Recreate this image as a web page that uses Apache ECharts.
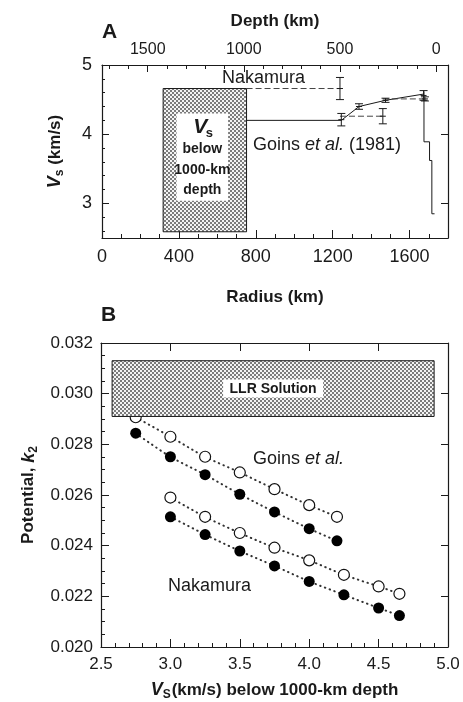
<!DOCTYPE html>
<html>
<head>
<meta charset="utf-8">
<script src="https://cdn.jsdelivr.net/npm/echarts@6/dist/echarts.min.js"></script>
<style>
html, body { margin: 0; padding: 0; background: #fff; }
#chart { width: 463px; height: 702px; }
</style>
</head>
<body>
<div id="chart"></div>
<script>
// ---- panel A : shear velocity profile ----
const R_MOON = 1738
const radiusMax = 1800
const radiusLabels = [0, 400, 800, 1200, 1600]
const depthLabels = [0, 500, 1000, 1500]
const vsLabels = [3, 4, 5]
const vsBox = [318, 752, 2.59, 4.66]          // r0, r1, vs0, vs1
const vsTextBox = [388, 656, 3.04, 4.30]
const goinsProfile = [[752, 4.2], [1245, 4.2], [1337, 4.40], [1475, 4.49], [1673, 4.58]]
const crustProfile = [[1675, 4.62], [1675, 3.89], [1704, 3.89], [1704, 3.62], [1716, 3.62], [1716, 2.85], [1730, 2.85]]
const nakamuraSteps = [[752, 1238, 4.66], [1238, 1461, 4.26], [1461, 1673, 4.51]]
const goinsErr = [[1245, 4.21, 0.09], [1337, 4.40, 0.04], [1475, 4.49, 0.03], [1673, 4.56, 0.07]]
const nakamuraErr = [[1238, 4.66, 0.16], [1461, 4.26, 0.11], [1680, 4.51, 0.03]]

// ---- panel B : k2 vs Vs below 1000 km ----
const vsGoins = [2.75, 3.0, 3.25, 3.5, 3.75, 4.0, 4.2]
const goinsOpen = [0.02907, 0.02830, 0.02751, 0.02689, 0.02623, 0.02560, 0.02514]
const goinsFilled = [0.02844, 0.02751, 0.02680, 0.02603, 0.02533, 0.02467, 0.02419]
const vsNakamura = [3.0, 3.25, 3.5, 3.75, 4.0, 4.25, 4.5, 4.65]
const nakamuraOpen = [0.02590, 0.02514, 0.02450, 0.02392, 0.02342, 0.02285, 0.02239, 0.02210]
const nakamuraFilled = [0.02514, 0.02444, 0.02379, 0.02320, 0.02259, 0.02206, 0.02154, 0.02124]
const llrBox = [2.58, 4.90, 0.0291, 0.0313]

const FONT = 'Liberation Sans'
const INK = '#1a1a1a'

function steps(a, b, s) {
    let out = []
    for (let v = a; v <= b + 1e-9; v += s) out.push(+v.toFixed(4))
    return out
}

// dotted fill like the print screen
function stipple() {
    const c = document.createElement('canvas')
    c.width = 4; c.height = 4
    const g = c.getContext('2d')
    g.fillStyle = '#f4f4f4'
    g.fillRect(0, 0, 4, 4)
    g.fillStyle = '#7c7c7c'
    g.fillRect(0, 0, 2, 2)
    g.fillRect(2, 2, 2, 2)
    return c
}
const pattern = { image: stipple(), repeat: 'repeat' }

function boxSeries(xi, yi, box, extra) {
    return {
        type: 'custom', xAxisIndex: xi, yAxisIndex: yi, z: 5,
        data: [box],
        encode: { x: [0, 1], y: [2, 3] },
        renderItem: function (params, api) {
            const p0 = api.coord([api.value(0), api.value(3)])
            const p1 = api.coord([api.value(1), api.value(2)])
            const children = [{
                type: 'rect',
                shape: { x: p0[0], y: p0[1], width: p1[0] - p0[0], height: p1[1] - p0[1] },
                style: { fill: pattern, stroke: INK, lineWidth: 1 }
            }]
            return { type: 'group', children: children.concat(extra(api, p0, p1)) }
        }
    }
}

function errSeries(data) {
    return {
        type: 'custom', xAxisIndex: 0, yAxisIndex: 0, z: 4,
        data: data,
        encode: { x: 0, y: 1 },
        renderItem: function (params, api) {
            const x = api.value(0), v = api.value(1), e = api.value(2)
            const t = api.coord([x, v + e]), b = api.coord([x, v - e]), m = api.coord([x, v])
            const st = { stroke: INK, lineWidth: 1 }
            return {
                type: 'group', children: [
                    { type: 'line', shape: { x1: t[0], y1: t[1], x2: b[0], y2: b[1] }, style: st },
                    { type: 'line', shape: { x1: t[0] - 4, y1: t[1], x2: t[0] + 4, y2: t[1] }, style: st },
                    { type: 'line', shape: { x1: b[0] - 4, y1: b[1], x2: b[0] + 4, y2: b[1] }, style: st },
                    { type: 'line', shape: { x1: m[0] - 3, y1: m[1], x2: m[0] + 3, y2: m[1] }, style: st }
                ]
            }
        }
    }
}

function dotted(xs, ys, filled) {
    return {
        type: 'line', xAxisIndex: 4, yAxisIndex: 3, z: 3,
        data: xs.map((x, i) => [x, ys[i]]),
        smooth: 0.3,
        symbol: 'circle', symbolSize: 11, showSymbol: true,
        lineStyle: { type: [0.5, 4.5], width: 2, cap: 'round', color: '#333' },
        itemStyle: { color: filled ? '#000' : '#fff', borderColor: '#111', borderWidth: filled ? 0 : 1.2 },
        emphasis: { disabled: true }
    }
}

// onZero off everywhere: the depth axis holds 0 and would pull the right axis inward
const axisLineStyle = { show: true, onZero: false, lineStyle: { color: INK, width: 1.2 } }
const noLine = { show: false, onZero: false }
const tickStyle = { color: INK, width: 1 }
const labelStyle = (size) => ({ show: true, fontFamily: FONT, fontSize: size, color: INK, formatter: v => String(v) })
const titleStyle = { fontFamily: FONT, fontSize: 17, fontWeight: 'bold', color: INK }
const ticks = (len, values) => {
    let t = { show: true, inside: true, length: len, lineStyle: tickStyle }
    if (values) t.customValues = values
    return t
}

var myChart = echarts.init(document.getElementById('chart'))
var option = {
    animation: false,
    backgroundColor: '#fff',
    grid: [
        { left: 102, top: 65, width: 346, height: 173, outerBoundsMode: 'none', containLabel: false },
        { left: 101, top: 343, width: 347, height: 304, outerBoundsMode: 'none', containLabel: false }
    ],
    xAxis: [
        {   // 0: radius, labels + minor ticks
            type: 'value', gridIndex: 0, position: 'bottom', min: 0, max: radiusMax,
            axisLine: axisLineStyle,
            axisTick: ticks(4, steps(0, 1700, 100)),
            axisLabel: Object.assign(labelStyle(18), { margin: 10, customValues: radiusLabels }),
            splitLine: { show: false },
            name: 'Radius (km)', nameLocation: 'middle', nameGap: 51, nameTextStyle: titleStyle
        },
        {   // 1: radius, major ticks
            type: 'value', gridIndex: 0, position: 'bottom', min: 0, max: radiusMax,
            axisLine: noLine,
            axisTick: ticks(8, radiusLabels),
            axisLabel: { show: false }, splitLine: { show: false }
        },
        {   // 2: depth on top
            type: 'value', gridIndex: 0, position: 'top', inverse: true,
            min: R_MOON - radiusMax, max: R_MOON,
            axisLine: axisLineStyle,
            axisTick: ticks(4, steps(0, 1700, 100)),
            axisLabel: Object.assign(labelStyle(16), { margin: 7, customValues: depthLabels }),
            splitLine: { show: false },
            name: 'Depth (km)', nameLocation: 'middle', nameGap: 35, nameTextStyle: titleStyle
        },
        {   // 3: depth major ticks
            type: 'value', gridIndex: 0, position: 'top', inverse: true,
            min: R_MOON - radiusMax, max: R_MOON,
            axisLine: noLine,
            axisTick: ticks(7, depthLabels),
            axisLabel: { show: false }, splitLine: { show: false }
        },
        {   // 4: panel B bottom
            type: 'value', gridIndex: 1, position: 'bottom', min: 2.5, max: 5, interval: 0.5,
            axisLine: axisLineStyle,
            axisTick: ticks(8),
            minorTick: { show: true, splitNumber: 5, length: 4, lineStyle: tickStyle },
            axisLabel: Object.assign(labelStyle(17), { margin: 9, formatter: v => v.toFixed(1) }),
            splitLine: { show: false },
            name: '{v|V}{s|S}{t|(km/s) below 1000-km depth}', nameLocation: 'middle', nameGap: 32,
            nameTextStyle: {
                fontFamily: FONT, color: INK,
                rich: {
                    v: { fontFamily: FONT, fontSize: 18, fontWeight: 'bold', fontStyle: 'italic', color: INK },
                    s: { fontFamily: FONT, fontSize: 12, fontWeight: 'bold', color: INK, padding: [10, 1, 0, 0] },
                    t: { fontFamily: FONT, fontSize: 17, fontWeight: 'bold', color: INK }
                }
            }
        },
        {   // 5: panel B top
            type: 'value', gridIndex: 1, position: 'top', min: 2.5, max: 5, interval: 0.5,
            axisLine: axisLineStyle,
            axisTick: ticks(8),
            axisLabel: { show: false }, splitLine: { show: false }
        }
    ],
    yAxis: [
        {   // 0: Vs left
            type: 'value', gridIndex: 0, position: 'left', min: 2.5, max: 5,
            axisLine: axisLineStyle,
            axisTick: ticks(3, steps(2.6, 4.8, 0.2)),
            axisLabel: Object.assign(labelStyle(18), { margin: 10, customValues: vsLabels }),
            splitLine: { show: false },
            name: '{v|V}{s|s}{t| (km/s)}', nameLocation: 'middle', nameGap: 36,
            nameTextStyle: {
                fontFamily: FONT, color: INK,
                rich: {
                    v: { fontFamily: FONT, fontSize: 18, fontWeight: 'bold', fontStyle: 'italic', color: INK },
                    s: { fontFamily: FONT, fontSize: 12, fontWeight: 'bold', color: INK, padding: [10, 0, 0, 0] },
                    t: { fontFamily: FONT, fontSize: 17, fontWeight: 'bold', color: INK }
                }
            }
        },
        {   // 1: Vs major ticks
            type: 'value', gridIndex: 0, position: 'left', min: 2.5, max: 5,
            axisLine: noLine,
            axisTick: ticks(7, vsLabels),
            axisLabel: { show: false }, splitLine: { show: false }
        },
        {   // 2: Vs right
            type: 'value', gridIndex: 0, position: 'right', min: 2.5, max: 5,
            axisLine: axisLineStyle,
            axisTick: ticks(7, [3, 4]),
            axisLabel: { show: false }, splitLine: { show: false }
        },
        {   // 3: k2 left
            type: 'value', gridIndex: 1, position: 'left', min: 0.020, max: 0.032, interval: 0.002,
            axisLine: axisLineStyle,
            axisTick: ticks(8),
            minorTick: { show: true, splitNumber: 4, length: 4, lineStyle: tickStyle },
            axisLabel: Object.assign(labelStyle(17), { margin: 8, formatter: v => v.toFixed(3) }),
            splitLine: { show: false },
            name: '{t|Potential, }{k|k}{s|2}', nameLocation: 'middle', nameGap: 61,
            nameTextStyle: {
                fontFamily: FONT, color: INK,
                rich: {
                    t: { fontFamily: FONT, fontSize: 17, fontWeight: 'bold', color: INK },
                    k: { fontFamily: FONT, fontSize: 18, fontWeight: 'bold', fontStyle: 'italic', color: INK },
                    s: { fontFamily: FONT, fontSize: 12, fontWeight: 'bold', color: INK, padding: [10, 0, 0, 0] }
                }
            }
        },
        {   // 4: k2 right
            type: 'value', gridIndex: 1, position: 'right', min: 0.020, max: 0.032, interval: 0.002,
            axisLine: axisLineStyle,
            axisTick: ticks(7),
            axisLabel: { show: false }, splitLine: { show: false }
        }
    ],
    graphic: [
        { type: 'text', left: 102, top: 22, style: { text: 'A', font: 'bold 21px "Liberation Sans"', fill: INK } },
        { type: 'text', left: 101, top: 305, style: { text: 'B', font: 'bold 21px "Liberation Sans"', fill: INK } },
        { type: 'text', left: 222, top: 69, style: { text: 'Nakamura', font: '18px "Liberation Sans"', fill: INK } },
        {
            type: 'text', left: 253, top: 136,
            style: {
                text: '{n|Goins }{i|et al.}{n| (1981)}', fill: INK,
                rich: {
                    n: { fontFamily: FONT, fontSize: 18, fill: INK },
                    i: { fontFamily: FONT, fontSize: 18, fontStyle: 'italic', fill: INK }
                }
            }
        },
        {
            type: 'text', left: 253, top: 450,
            style: {
                text: '{n|Goins }{i|et al.}', fill: INK,
                rich: {
                    n: { fontFamily: FONT, fontSize: 18, fill: INK },
                    i: { fontFamily: FONT, fontSize: 18, fontStyle: 'italic', fill: INK }
                }
            }
        },
        { type: 'text', left: 168, top: 577, style: { text: 'Nakamura', font: '18px "Liberation Sans"', fill: INK } }
    ],
    series: [
        // Panel A
        boxSeries(0, 0, vsBox, function (api) {
            const q0 = api.coord([vsTextBox[0], vsTextBox[3]])
            const q1 = api.coord([vsTextBox[1], vsTextBox[2]])
            const cx = (q0[0] + q1[0]) / 2
            const tf = '"Liberation Sans"'
            return [
                { type: 'rect', shape: { x: q0[0], y: q0[1], width: q1[0] - q0[0], height: q1[1] - q0[1] }, style: { fill: '#fff' } },
                { type: 'text', style: { text: 'V', x: cx - 2, y: q0[1] + 14, font: 'italic bold 21px ' + tf, fill: INK, align: 'center', verticalAlign: 'middle' } },
                { type: 'text', style: { text: 's', x: cx + 7, y: q0[1] + 20, font: 'bold 13px ' + tf, fill: INK, align: 'center', verticalAlign: 'middle' } },
                { type: 'text', style: { text: 'below', x: cx, y: q0[1] + 36, font: 'bold 14px ' + tf, fill: INK, align: 'center', verticalAlign: 'middle' } },
                { type: 'text', style: { text: '1000-km', x: cx, y: q0[1] + 57, font: 'bold 14px ' + tf, fill: INK, align: 'center', verticalAlign: 'middle' } },
                { type: 'text', style: { text: 'depth', x: cx, y: q0[1] + 77, font: 'bold 14px ' + tf, fill: INK, align: 'center', verticalAlign: 'middle' } }
            ]
        }),
        {
            type: 'line', xAxisIndex: 0, yAxisIndex: 0, z: 3, data: goinsProfile, symbol: 'none',
            lineStyle: { color: INK, width: 1 }
        },
        {
            type: 'line', xAxisIndex: 0, yAxisIndex: 0, z: 3, data: crustProfile, symbol: 'none',
            lineStyle: { color: INK, width: 1 }
        },
        ...nakamuraSteps.map(s => ({
            type: 'line', xAxisIndex: 0, yAxisIndex: 0, z: 3, symbol: 'none',
            data: [[s[0], s[2]], [s[1], s[2]]],
            lineStyle: { color: '#444', width: 1, type: [6, 3] }
        })),
        errSeries(goinsErr),
        errSeries(nakamuraErr),
        // Panel B
        dotted(vsGoins, goinsOpen, false),
        dotted(vsGoins, goinsFilled, true),
        dotted(vsNakamura, nakamuraOpen, false),
        dotted(vsNakamura, nakamuraFilled, true),
        boxSeries(4, 3, llrBox, function (api, p0, p1) {
            const cx = (p0[0] + p1[0]) / 2, cy = (p0[1] + p1[1]) / 2
            return [
                { type: 'rect', shape: { x: cx - 50, y: cy - 9, width: 100, height: 18 }, style: { fill: '#fff' } },
                { type: 'text', style: { text: 'LLR Solution', x: cx, y: cy + 1, font: 'bold 14px "Liberation Sans"', fill: INK, align: 'center', verticalAlign: 'middle' } }
            ]
        })
    ]
}

myChart.setOption(option)
window.addEventListener('resize', myChart.resize)
</script>
</body>
</html>
